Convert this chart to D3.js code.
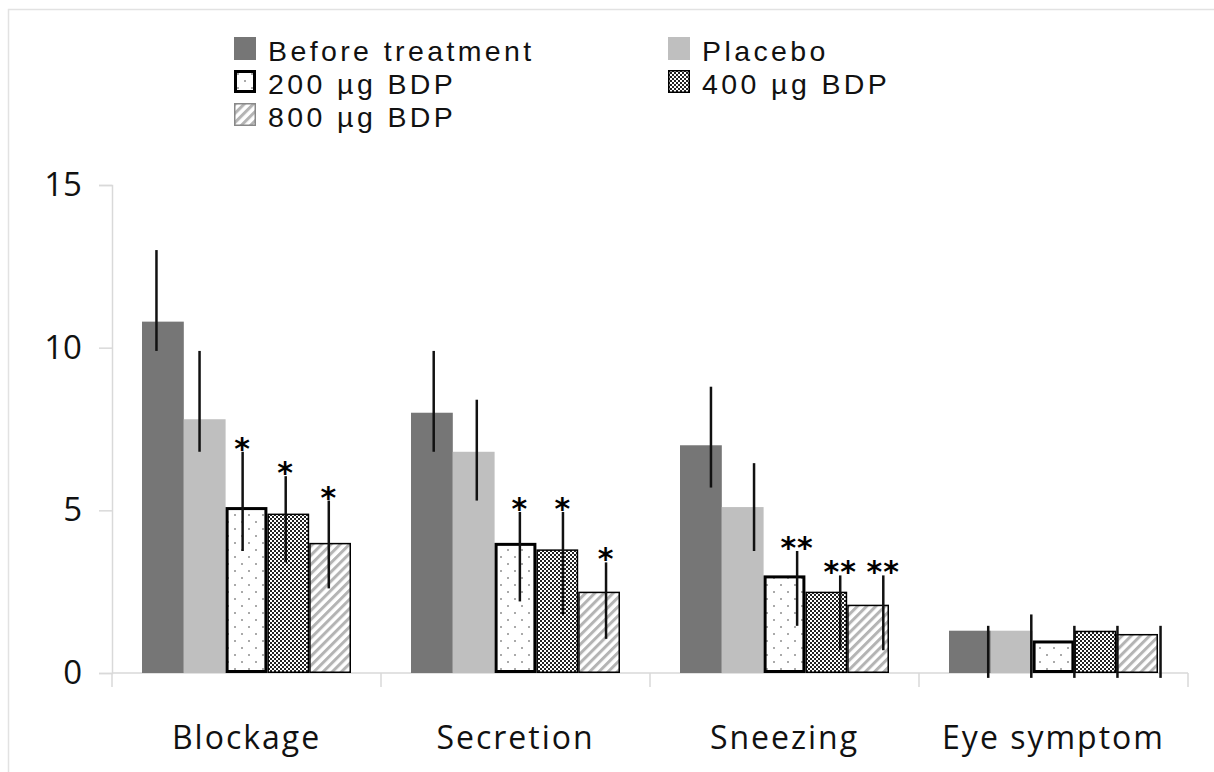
<!DOCTYPE html>
<html>
<head>
<meta charset="utf-8">
<script src="https://cdn.jsdelivr.net/npm/d3@7"></script>
<style>
  body { margin: 0; background: #fff; }
  svg { display: block; font-family: "Open Sans", sans-serif; }
</style>
</head>
<body>
<div id="chart"></div>
<script>
// Data
const categories = ["Blockage", "Secretion", "Sneezing", "Eye symptom"];
const series = ["Before treatment", "Placebo", "200 µg BDP", "400 µg BDP", "800 µg BDP"];

const means = [
    [10.8, 8.0, 7.0, 1.3],   // before treatment
    [7.8, 6.8, 5.1, 1.3],    // placebo
    [5.1, 4.0, 3.0, 1.0],    // 200 µg
    [4.9, 3.8, 2.5, 1.3],    // 400 µg
    [4.0, 2.5, 2.1, 1.2]     // 800 µg
];
const errHigh = [
    [13.0, 9.9, 8.8, 1.45],
    [9.9, 8.4, 6.45, 1.8],
    [6.8, 4.95, 3.75, 1.45],
    [6.05, 4.95, 3.0, 1.45],
    [5.3, 3.4, 3.0, 1.45]
];
const errLow = [
    [9.9, 6.8, 5.7, -0.15],
    [6.8, 5.3, 3.75, -0.15],
    [3.75, 2.2, 1.45, -0.15],
    [3.4, 1.8, 0.7, -0.15],
    [2.6, 1.05, 0.7, -0.15]
];
const signif = [
    ["", "", "", ""],
    ["", "", "", ""],
    ["*", "*", "**", ""],
    ["*", "*", "**", ""],
    ["*", "*", "**", ""]
];
const yTicks = [0, 5, 10, 15];

const width = 1214, height = 772;

const svg = d3.select("#chart").append("svg")
    .attr("width", width)
    .attr("height", height);

// chart frame
svg.append("rect")
    .attr("x", 8.5).attr("y", 9.5)
    .attr("width", width + 20).attr("height", height + 20)
    .attr("fill", "none")
    .attr("stroke", "#e2e2e2")
    .attr("stroke-width", 1.5);

// patterns
const defs = svg.append("defs");

const dots = defs.append("pattern").attr("id", "dots")
    .attr("patternUnits", "userSpaceOnUse").attr("width", 14).attr("height", 14);
dots.append("rect").attr("width", 14).attr("height", 14).attr("fill", "#fff");
dots.append("rect").attr("x", 3).attr("y", 3).attr("width", 2).attr("height", 2).attr("fill", "#aaa");
dots.append("rect").attr("x", 10).attr("y", 10).attr("width", 2).attr("height", 2).attr("fill", "#aaa");

const checker = defs.append("pattern").attr("id", "checker")
    .attr("patternUnits", "userSpaceOnUse").attr("width", 4).attr("height", 4);
checker.append("rect").attr("width", 4).attr("height", 4).attr("fill", "#fff");
checker.append("rect").attr("width", 2).attr("height", 2).attr("fill", "#222");
checker.append("rect").attr("x", 2).attr("y", 2).attr("width", 2).attr("height", 2).attr("fill", "#222");

const hatch = defs.append("pattern").attr("id", "hatch")
    .attr("patternUnits", "userSpaceOnUse").attr("width", 6.5).attr("height", 6.5)
    .attr("patternTransform", "rotate(45)");
hatch.append("rect").attr("width", 6.5).attr("height", 6.5).attr("fill", "#fff");
hatch.append("rect").attr("width", 3).attr("height", 6.5).attr("fill", "#b4b4b4");

const fills = ["#767676", "#bfbfbf", "url(#dots)", "url(#checker)", "url(#hatch)"];
const strokes = ["none", "none", "#000", "#000", "#000"];
const strokeW = [0, 0, 3, 1.5, 1.5];

// scales
const y = d3.scaleLinear().domain([0, 15]).range([673, 185]);
const x0 = d3.scaleBand().domain(categories).range([112, 1188]);
const pad = 30 / 269;
const x1 = d3.scaleBand().domain(series)
    .range([x0.bandwidth() * pad, x0.bandwidth() * (1 - pad)]);

// error bar layer is slightly stretched against the bars in the original
const xe0 = d3.scaleBand().domain(categories).range([104, 1213]);
const xe1 = d3.scaleBand().domain(series)
    .range([xe0.bandwidth() * pad, xe0.bandwidth() * (1 - pad)]);

// y axis
const yAxis = svg.append("g")
    .attr("transform", "translate(112,0)")
    .call(d3.axisLeft(y).tickValues(yTicks).tickSize(13).tickPadding(17));
yAxis.select(".domain").attr("stroke", "#d9d9d9").attr("stroke-width", 1.5);
yAxis.selectAll(".tick line").attr("stroke", "#d9d9d9").attr("stroke-width", 1.5);
yAxis.selectAll(".tick text")
    .attr("font-family", "Open Sans, sans-serif")
    .attr("font-size", 33)
    .attr("fill", "#111");

// bottom axis
const xAxis = svg.append("g")
    .attr("transform", "translate(0,673)")
    .call(d3.axisBottom(x0).tickSize(0).tickPadding(0));
xAxis.select(".domain").remove();
xAxis.append("line")
    .attr("x1", 112).attr("x2", 1188)
    .attr("stroke", "#d9d9d9").attr("stroke-width", 1.5);
xAxis.selectAll(".sep")
    .data(categories.map(c => x0(c)).concat([x0.range()[1]]))
    .enter().append("line")
    .attr("x1", d => d).attr("x2", d => d)
    .attr("y1", 0).attr("y2", 14)
    .attr("stroke", "#d9d9d9").attr("stroke-width", 1.5);
xAxis.selectAll(".tick text")
    .attr("font-family", "Open Sans, sans-serif")
    .attr("font-size", 32)
    .attr("letter-spacing", 2)
    .attr("fill", "#111")
    .attr("dy", 0)
    .attr("y", 76);

// bars
const rows = [];
series.forEach((s, si) => {
    categories.forEach((c, ci) => {
        rows.push({s, si, c, ci, v: means[si][ci], hi: errHigh[si][ci], lo: errLow[si][ci], sig: signif[si][ci]});
    });
});

svg.append("g").selectAll("rect")
    .data(rows)
    .enter().append("rect")
    .attr("x", d => x0(d.c) + x1(d.s) + strokeW[d.si] / 2)
    .attr("y", d => y(d.v) + strokeW[d.si] / 2)
    .attr("width", d => x1.bandwidth() - strokeW[d.si])
    .attr("height", d => y(0) - y(d.v) - strokeW[d.si])
    .attr("fill", d => fills[d.si])
    .attr("stroke", d => strokes[d.si])
    .attr("stroke-width", d => strokeW[d.si]);

// error bars
const ex = d => xe0(d.c) + xe1(d.s) + xe1.bandwidth() / 2;
svg.append("g").selectAll("line")
    .data(rows)
    .enter().append("line")
    .attr("x1", ex).attr("x2", ex)
    .attr("y1", d => y(d.hi)).attr("y2", d => y(d.lo))
    .attr("stroke", "#111")
    .attr("stroke-width", 2.5);

// significance marks
svg.append("g").selectAll("text")
    .data(rows.filter(d => d.sig))
    .enter().append("text")
    .attr("x", ex)
    .attr("y", d => y(d.hi) + 7)
    .attr("text-anchor", "middle")
    .attr("font-family", "DejaVu Sans, sans-serif")
    .attr("font-weight", "bold")
    .attr("font-size", 30)
    .attr("letter-spacing", 1)
    .text(d => d.sig);

// legend
const legend = svg.append("g");
const item = legend.selectAll("g")
    .data(series)
    .enter().append("g")
    .attr("transform", (d, i) => `translate(${i % 2 ? 668 : 234},${37 + Math.floor(i / 2) * 33})`);

item.append("rect")
    .attr("x", (d, i) => strokeW[i] / 2 || 0)
    .attr("y", (d, i) => strokeW[i] / 2 || 0)
    .attr("width", (d, i) => 22 - (strokeW[i] || 0))
    .attr("height", (d, i) => 23 - (strokeW[i] || 0))
    .attr("fill", (d, i) => fills[i])
    .attr("stroke", (d, i) => i === 4 ? "#888" : strokes[i])
    .attr("stroke-width", (d, i) => strokeW[i]);

item.append("text")
    .attr("x", 34)
    .attr("y", 24)
    .attr("font-family", "Liberation Sans, Arial, sans-serif")
    .attr("font-size", 28.5)
    .attr("letter-spacing", 3.4)
    .attr("fill", "#111")
    .text(d => d);
</script>
</body>
</html>
